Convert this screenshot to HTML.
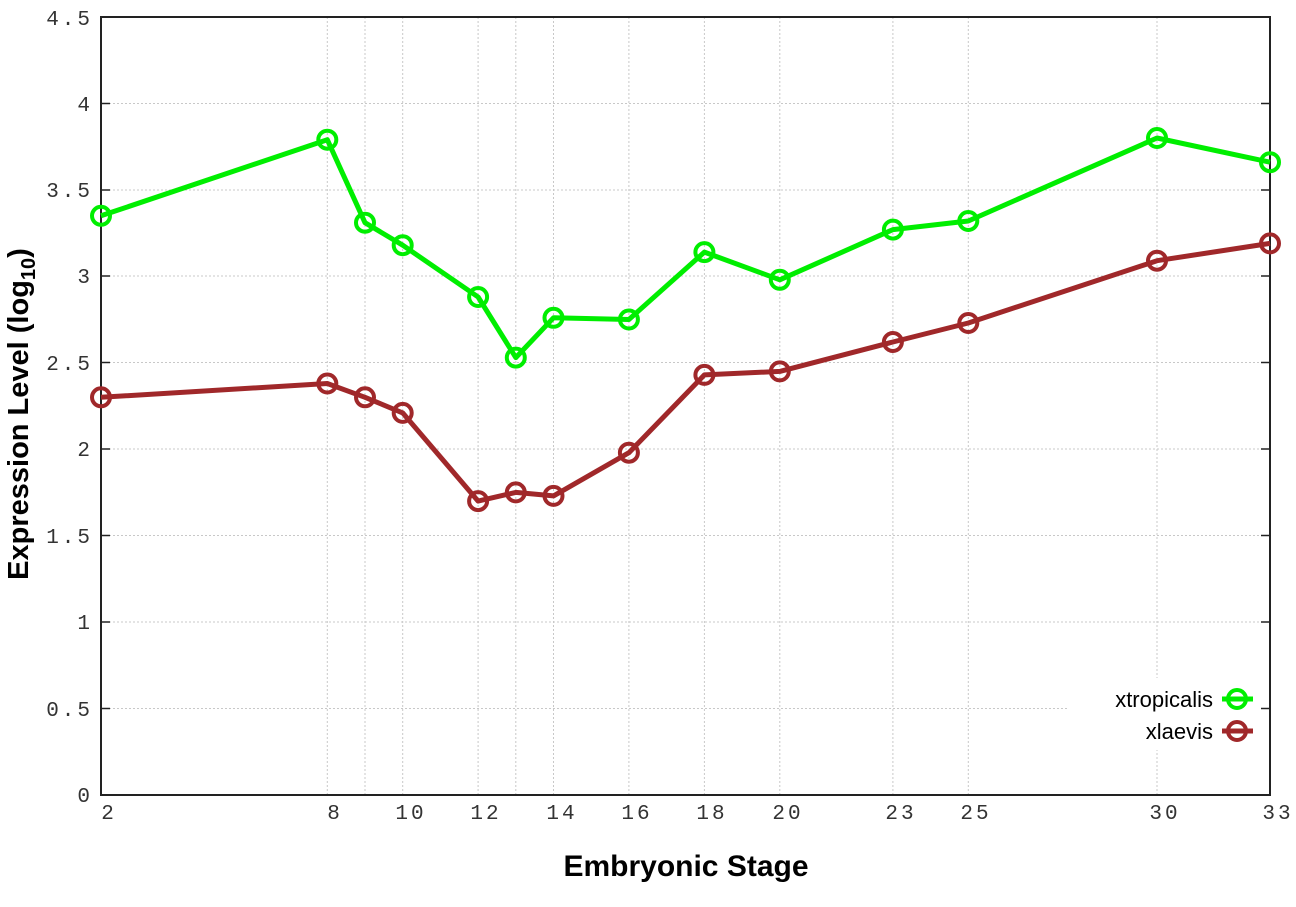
<!DOCTYPE html>
<html><head><meta charset="utf-8"><style>body{margin:0;background:#fff}svg{display:block}</style></head><body>
<svg width="1296" height="907" xmlns="http://www.w3.org/2000/svg">
<rect width="1296" height="907" fill="#fff"/>
<g stroke="#c8c8c8" stroke-width="1" stroke-dasharray="2,2">
<line x1="101" x2="1270" y1="708.5" y2="708.5"/><line x1="101" x2="1270" y1="622" y2="622"/><line x1="101" x2="1270" y1="535.5" y2="535.5"/><line x1="101" x2="1270" y1="449" y2="449"/><line x1="101" x2="1270" y1="362.5" y2="362.5"/><line x1="101" x2="1270" y1="276" y2="276"/><line x1="101" x2="1270" y1="190" y2="190"/><line x1="101" x2="1270" y1="103.5" y2="103.5"/>
<line y1="17" y2="795" x1="327.3" x2="327.3"/><line y1="17" y2="795" x1="365" x2="365"/><line y1="17" y2="795" x1="402.7" x2="402.7"/><line y1="17" y2="795" x1="478.1" x2="478.1"/><line y1="17" y2="795" x1="515.8" x2="515.8"/><line y1="17" y2="795" x1="553.5" x2="553.5"/><line y1="17" y2="795" x1="628.9" x2="628.9"/><line y1="17" y2="795" x1="704.4" x2="704.4"/><line y1="17" y2="795" x1="779.8" x2="779.8"/><line y1="17" y2="795" x1="892.9" x2="892.9"/><line y1="17" y2="795" x1="968.3" x2="968.3"/><line y1="17" y2="795" x1="1157" x2="1157"/>
</g>
<rect x="1068" y="678" width="194" height="72" fill="#fff"/>
<rect x="101" y="17" width="1169" height="778" fill="none" stroke="#222" stroke-width="2"/>
<g stroke="#222" stroke-width="1.5">
<line x1="101" x2="110" y1="708.5" y2="708.5"/><line x1="101" x2="110" y1="622" y2="622"/><line x1="101" x2="110" y1="535.5" y2="535.5"/><line x1="101" x2="110" y1="449" y2="449"/><line x1="101" x2="110" y1="362.5" y2="362.5"/><line x1="101" x2="110" y1="276" y2="276"/><line x1="101" x2="110" y1="190" y2="190"/><line x1="101" x2="110" y1="103.5" y2="103.5"/>
<line x1="1261" x2="1270" y1="708.5" y2="708.5"/><line x1="1261" x2="1270" y1="622" y2="622"/><line x1="1261" x2="1270" y1="535.5" y2="535.5"/><line x1="1261" x2="1270" y1="449" y2="449"/><line x1="1261" x2="1270" y1="362.5" y2="362.5"/><line x1="1261" x2="1270" y1="276" y2="276"/><line x1="1261" x2="1270" y1="190" y2="190"/><line x1="1261" x2="1270" y1="103.5" y2="103.5"/>
</g>
<g font-family="Liberation Mono, monospace" font-size="21" fill="#333" text-anchor="end" letter-spacing="3">
<text x="93" y="802">0</text><text x="93" y="716">0.5</text><text x="93" y="629">1</text><text x="93" y="543">1.5</text><text x="93" y="456">2</text><text x="93" y="370">2.5</text><text x="93" y="283">3</text><text x="93" y="197">3.5</text><text x="93" y="111">4</text><text x="93" y="25">4.5</text>
</g>
<g font-family="Liberation Mono, monospace" font-size="21" fill="#333" text-anchor="middle" letter-spacing="3">
<text x="109" y="819">2</text><text x="335" y="819">8</text><text x="411" y="819">10</text><text x="486" y="819">12</text><text x="562" y="819">14</text><text x="637" y="819">16</text><text x="712" y="819">18</text><text x="788" y="819">20</text><text x="901" y="819">23</text><text x="976" y="819">25</text><text x="1165" y="819">30</text><text x="1278" y="819">33</text>
</g>
<text x="686" y="876" font-family="Liberation Sans, sans-serif" font-weight="bold" font-size="30" text-anchor="middle" fill="#000">Embryonic Stage</text>
<text transform="translate(28,414) rotate(-90)" font-family="Liberation Sans, sans-serif" font-weight="bold" font-size="29" text-anchor="middle" fill="#000">Expression Level (log<tspan font-size="20" dy="7">10</tspan><tspan dy="-7">)</tspan></text>
<g fill="none" stroke-width="5" stroke-linejoin="round">
<polyline stroke="#00ee00" points="101,215.8 327.3,139.7 365,222.7 402.7,245.2 478.1,297 515.8,357.6 553.5,317.8 628.9,319.5 704.4,252.1 779.8,279.8 892.9,229.6 968.3,221 1157,138 1270,162.2"/>
<polyline stroke="#a0282a" points="101,397.3 327.3,383.5 365,397.3 402.7,412.9 478.1,501.1 515.8,492.4 553.5,495.9 628.9,452.7 704.4,374.9 779.8,371.4 892.9,342 968.3,323 1157,260.7 1270,243.4"/>
</g>
<g fill="none" stroke-width="4">
<g stroke="#00ee00">
<circle cx="101" cy="215.8" r="9"/><circle cx="327.3" cy="139.7" r="9"/><circle cx="365" cy="222.7" r="9"/><circle cx="402.7" cy="245.2" r="9"/><circle cx="478.1" cy="297" r="9"/><circle cx="515.8" cy="357.6" r="9"/><circle cx="553.5" cy="317.8" r="9"/><circle cx="628.9" cy="319.5" r="9"/><circle cx="704.4" cy="252.1" r="9"/><circle cx="779.8" cy="279.8" r="9"/><circle cx="892.9" cy="229.6" r="9"/><circle cx="968.3" cy="221" r="9"/><circle cx="1157" cy="138" r="9"/><circle cx="1270" cy="162.2" r="9"/>
<circle cx="1237" cy="699" r="9"/>
</g>
<g stroke="#a0282a">
<circle cx="101" cy="397.3" r="9"/><circle cx="327.3" cy="383.5" r="9"/><circle cx="365" cy="397.3" r="9"/><circle cx="402.7" cy="412.9" r="9"/><circle cx="478.1" cy="501.1" r="9"/><circle cx="515.8" cy="492.4" r="9"/><circle cx="553.5" cy="495.9" r="9"/><circle cx="628.9" cy="452.7" r="9"/><circle cx="704.4" cy="374.9" r="9"/><circle cx="779.8" cy="371.4" r="9"/><circle cx="892.9" cy="342" r="9"/><circle cx="968.3" cy="323" r="9"/><circle cx="1157" cy="260.7" r="9"/><circle cx="1270" cy="243.4" r="9"/>
<circle cx="1237" cy="731" r="9"/>
</g>
</g>
<line x1="1222" x2="1253" y1="699" y2="699" stroke="#00ee00" stroke-width="5"/>
<line x1="1222" x2="1253" y1="731" y2="731" stroke="#a0282a" stroke-width="5"/>
<g font-family="Liberation Sans, sans-serif" font-size="22" fill="#000" text-anchor="end">
<text x="1213" y="707">xtropicalis</text><text x="1213" y="739">xlaevis</text>
</g>
</svg>
</body></html>
